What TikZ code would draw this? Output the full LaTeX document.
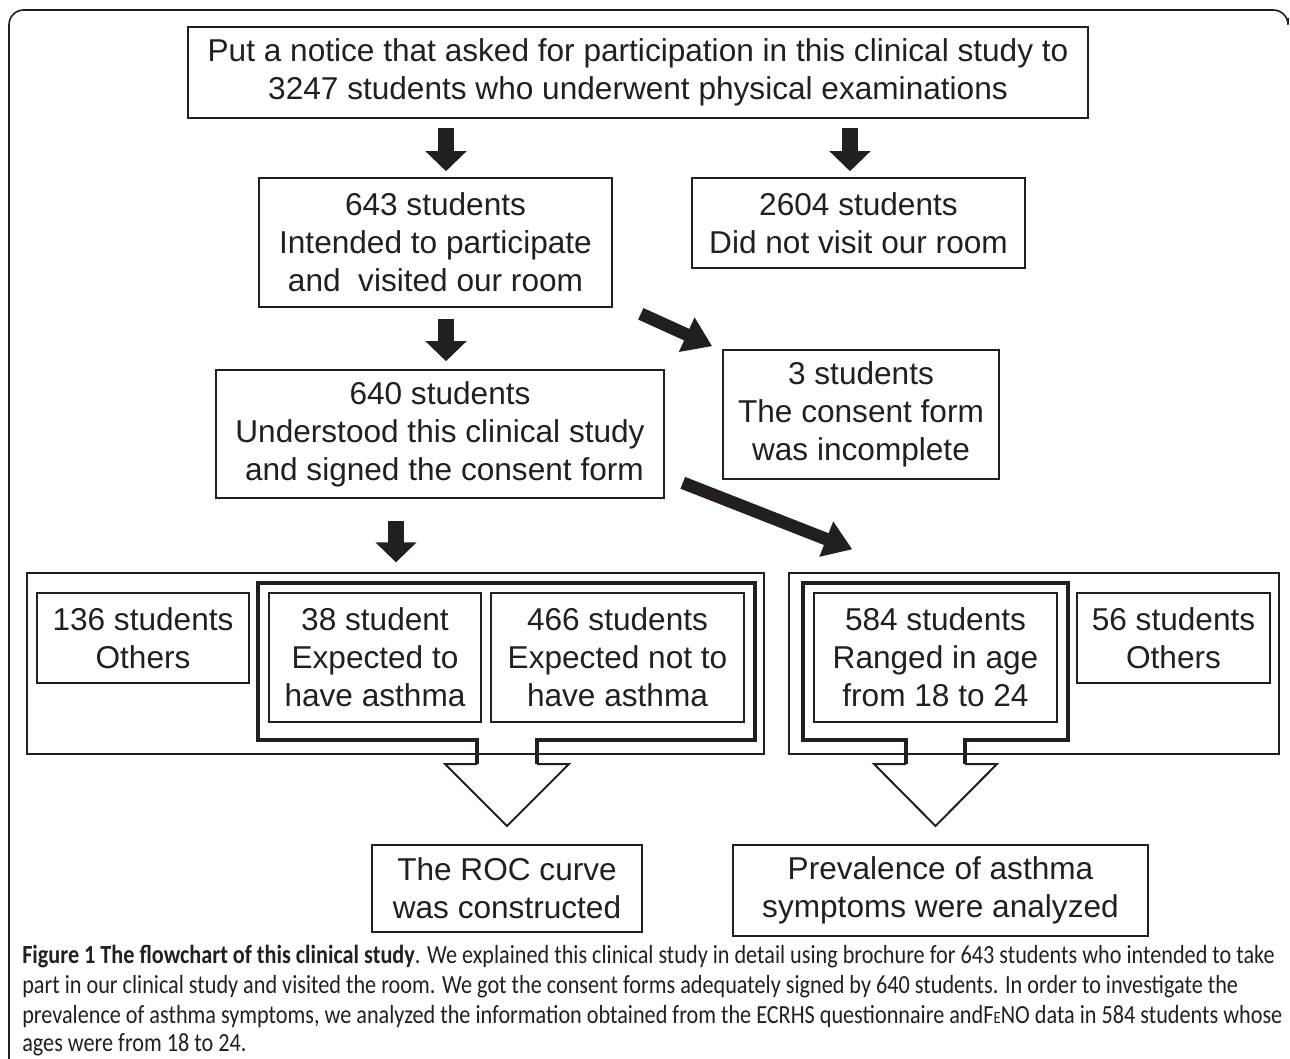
\documentclass[tikz,border=0pt]{standalone}
\usepackage{fontspec}
\setmainfont{Liberation Sans}
\newfontfamily\capfont[FakeStretch=0.85]{Carlito}
\usetikzlibrary{arrows.meta,calc}
\definecolor{ink}{HTML}{231F20}
\newcommand\flowbox[7][fbox]{\node[#1, minimum width={(#5-#3)*0.75pt}, minimum height={(#6-#4)*0.75pt}] (#2) at ({(#3+#5)/2},{(#4+#6)/2}) {#7};}
\tikzset{
  fbox/.style={draw=ink, line width=1.2pt, inner sep=0pt, align=center, text=ink,
    font=\fontsize{23.7pt}{28.5pt}\selectfont},
  gbox/.style={draw=ink, line width=1pt, inner sep=0pt},
  barrow/.style={draw=ink, line width=12pt, -{Triangle[length=15pt,width=30pt]}},
  darrow/.style={draw=ink, line width=9.5pt, -{Triangle[length=21pt,width=27pt]}},
  thickframe/.style={draw=ink, line width=3pt},
  openhead/.style={draw=ink, line width=1.5pt},
  capline/.style={anchor=base west, inner sep=0pt, text=ink, font=\capfont\fontsize{19.6pt}{22.5pt}\selectfont}
}
\begin{document}
\begin{tikzpicture}[x=0.75pt,y=-0.75pt, line join=miter]
\useasboundingbox (0,0) rectangle (1290,1058);
\fill[white] (0,0) rectangle (1290,1058);
% outer frame
\draw[ink, line width=1.2pt, rounded corners=11pt] (9,1062) -- (9,10) -- (1288,10) -- (1288,18);

% boxes
\flowbox{top}{188}{27}{1088}{118}{Put a notice that asked for participation in this clinical study to\\3247 students who underwent physical examinations}
\flowbox{b643}{259}{178}{612}{307}{643 students\\Intended to participate\\and\ \ visited our room}
\flowbox{b2604}{692}{178}{1025}{268}{2604 students\\Did not visit our room}
\flowbox{b640}{216}{370}{664}{498}{640 students\\Understood this clinical study\\\ and signed the consent form}
\flowbox{b3}{723}{350}{999}{479}{3 students\\The consent form\\was incomplete}

% groups
\flowbox[gbox]{lgroup}{27}{573}{764}{754}{}
\flowbox[gbox]{rgroup}{789}{573}{1279}{754}{}
\flowbox{b136}{37}{593}{249}{683}{136 students\\Others}
\flowbox{b38}{269}{593}{481}{722}{38 student\\Expected to\\have asthma}
\flowbox{b466}{491}{593}{744}{722}{466 students\\Expected not to\\have asthma}
\flowbox{b584}{814}{593}{1057}{722}{584 students\\Ranged in age\\from 18 to 24}
\flowbox{b56}{1077}{593}{1270}{683}{56 students\\Others}

\flowbox{roc}{372}{845}{642}{932}{The ROC curve\\was constructed}
\flowbox{prev}{733}{845}{1148}{936}{Prevalence of asthma\\symptoms were analyzed}

% thick frames with open arrows
\draw[thickframe] (477,764) -- (477,740) -- (258,740) -- (258,583) -- (755,583) -- (755,740) -- (537,740) -- (537,764);
\draw[openhead] (477,764) -- (445,764) -- (507,826) -- (569,764) -- (537,764);
\draw[thickframe] (906,764) -- (906,740) -- (803,740) -- (803,583) -- (1068,583) -- (1068,740) -- (965,740) -- (965,764);
\draw[openhead] (906,764) -- (874,764) -- (935.5,826) -- (997,764) -- (965,764);

% block arrows
\draw[barrow, shorten <=6.75pt, shorten >=4.5pt] (446,0 |- top.south) -- (446,0 |- b643.north);
\draw[barrow, shorten <=6.75pt, shorten >=4.5pt] (850,0 |- top.south) -- (850,0 |- b2604.north);
\draw[barrow, shorten <=8.25pt, shorten >=6pt] (446,0 |- b643.south) -- (446,0 |- b640.north);
\draw[barrow, shorten <=16.5pt, shorten >=7.5pt] (396,0 |- b640.south) -- (396,0 |- lgroup.north);
\draw[darrow] ([shift={(28,6)}]b643.south east) -- ([shift={(-10,-3)}]b3.north west);
\draw[darrow] ([shift={(18,-16)}]b640.south east) -- ([shift={(64,-23)}]rgroup.north west);

% caption
\node[capline] (cap1) at (22,963) {\textbf{Figure 1 The flowchart of this clinical study}. We explained this clinical study in detail using brochure for 643 students who intended to take};
\node[capline] (cap2) at (22,993) {part in our clinical study and visited the room. We got the consent forms adequately signed by 640 students. In order to investigate the};
\node[capline] (cap3) at (22,1023) {prevalence of asthma symptoms, we analyzed the information obtained from the ECRHS questionnaire andF{\fontsize{13pt}{13pt}\selectfont E}NO data in 584 students whose};
\node[capline] (cap4) at (22,1051) {ages were from 18 to 24.};
\end{tikzpicture}
\end{document}
